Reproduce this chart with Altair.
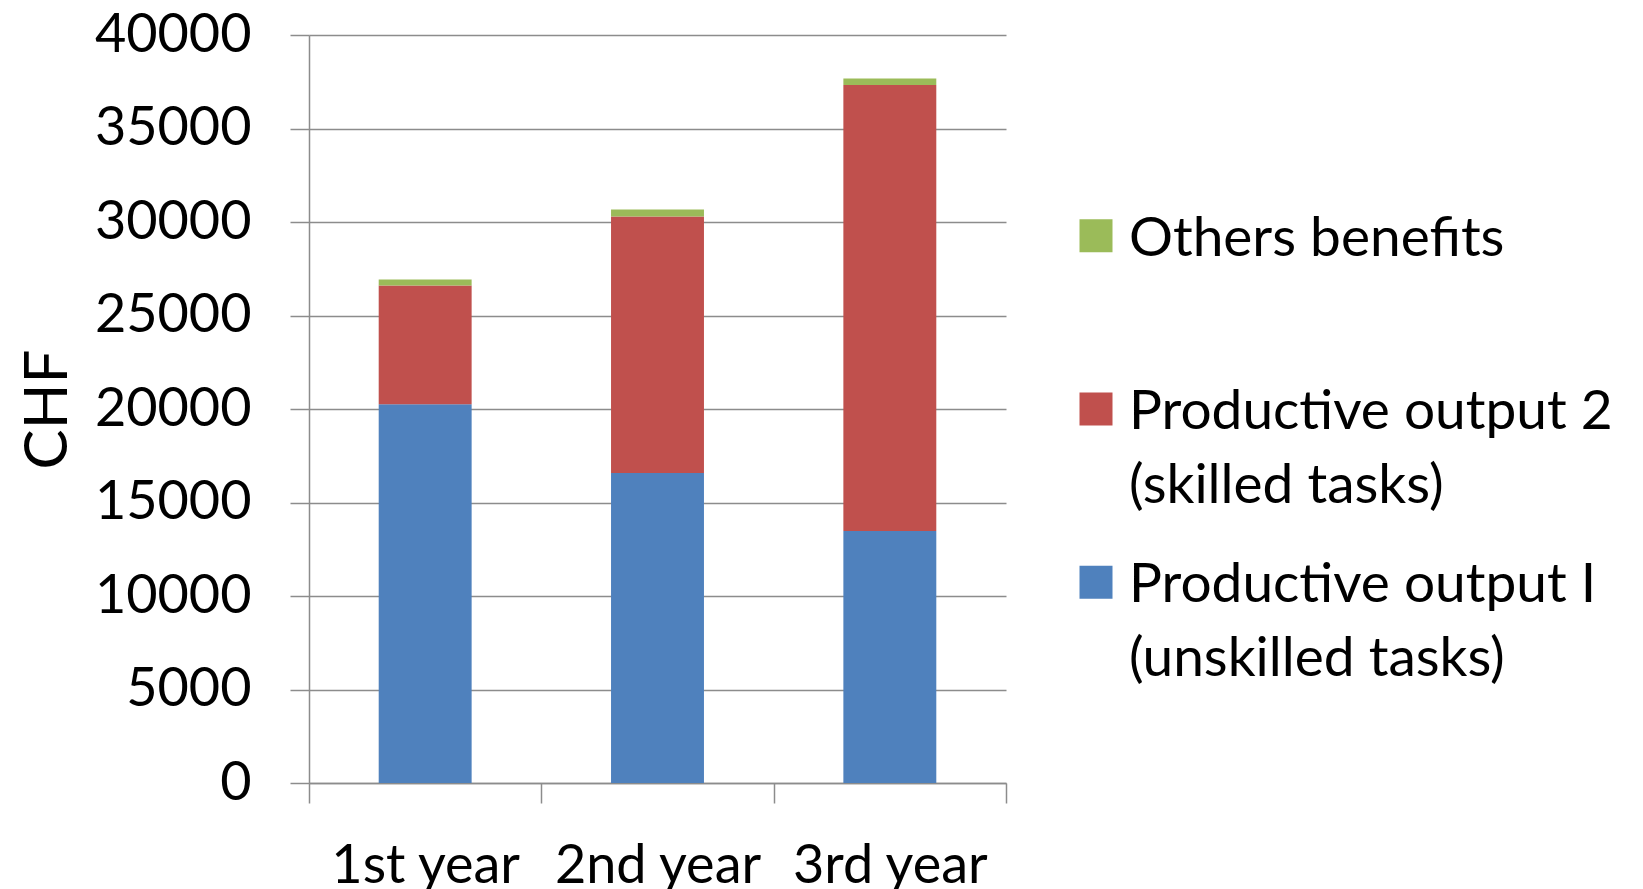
import altair as alt
import pandas as pd

# Yearly benefit components (CHF), stacked bottom to top
years = ["1st year", "2nd year", "3rd year"]
unskilled = [20250, 16580, 13480]
skilled = [6350, 13720, 23850]
others = [330, 370, 340]

series = [
    "Productive output I (unskilled tasks)",
    "Productive output 2 (skilled tasks)",
    "Others benefits",
]
legend_text = [
    "Productive output I|(unskilled tasks)",
    "Productive output 2|(skilled tasks)",
    "Others benefits",
]
colors = ["#4F81BD", "#C0504D", "#9BBB59"]
y_ticks = [0, 5000, 10000, 15000, 20000, 25000, 30000, 35000, 40000]

FONT = "Lato"
GRID = "#8C8C8C"

rows = []
for rank, (name, values) in enumerate(zip(series, [unskilled, skilled, others])):
    for year, v in zip(years, values):
        rows.append({"year": year, "series": name, "value": v, "rank": rank})
df = pd.DataFrame(rows)

color_scale = alt.Scale(domain=series, range=colors)

bars = alt.Chart(df).mark_bar(width=alt.RelativeBandSize(0.4)).encode(
    x=alt.X(
        "year:N",
        sort=years,
        scale=alt.Scale(paddingInner=0, paddingOuter=0),
        axis=alt.Axis(
            title=None, labelAngle=0, tickBand="extent", grid=False,
            domainColor=GRID, domainWidth=1.5, tickColor=GRID, tickWidth=1.5,
            tickSize=20, labelPadding=36, labelFont=FONT, labelFontSize=54,
            labelColor="#000000", labelLimit=0, labelOverlap=False,
        ),
    ),
    y=alt.Y(
        "value:Q",
        stack="zero",
        scale=alt.Scale(domain=[0, 40000], nice=False),
        axis=alt.Axis(
            values=y_ticks, format="d", title="CHF",
            grid=True, gridColor=GRID, gridWidth=1.5,
            domainColor=GRID, domainWidth=1.5, tickColor=GRID, tickWidth=1.5,
            tickSize=19, labelPadding=39, labelFont=FONT, labelFontSize=54,
            labelColor="#000000", titleFont=FONT, titleFontSize=60,
            titleFontWeight="normal", titleColor="#000000", titlePadding=30,
        ),
    ),
    color=alt.Color("series:N", scale=color_scale, legend=None),
    order=alt.Order("rank:Q"),
).properties(width=697, height=748)

# Legend panel: top entry first
leg_df = pd.DataFrame({"series": series[::-1], "label": legend_text[::-1]})
leg_y = alt.Y(
    "series:N", sort=series[::-1],
    scale=alt.Scale(type="band", paddingInner=0, paddingOuter=0.66),
    axis=None,
)

swatches = alt.Chart(leg_df).mark_square(size=1089, opacity=1).encode(
    x=alt.value(17),
    y=leg_y,
    color=alt.Color("series:N", scale=color_scale, legend=None),
)
labels = alt.Chart(leg_df).mark_text(
    align="left", baseline="alphabetic", dy=20, lineBreak="|", lineHeight=74,
    font=FONT, fontSize=55, color="#000000",
).encode(x=alt.value(50), y=leg_y, text="label:N")

legend = (swatches + labels).properties(width=540, height=748)

chart = (
    alt.hconcat(bars, legend, spacing=72)
    .properties(padding={"left": 18, "top": 8, "right": 0, "bottom": 0}, background="white")
    .configure_view(stroke=None)
)

chart.save("out.html", embed_options={"renderer": "svg", "actions": False})
